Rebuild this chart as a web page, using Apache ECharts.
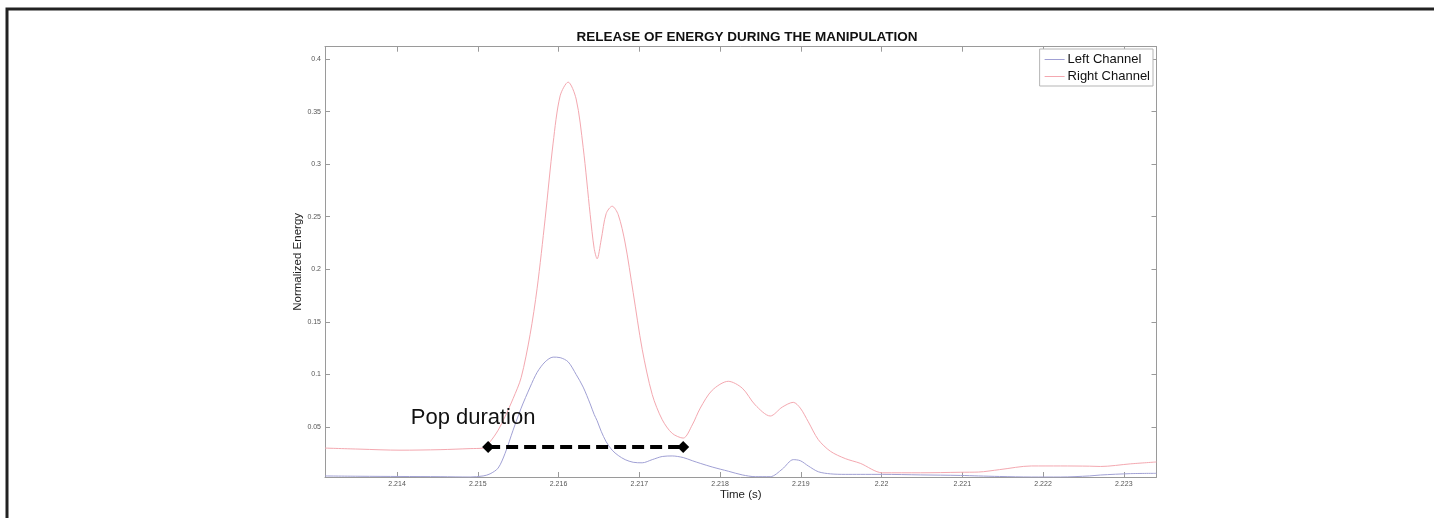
<!DOCTYPE html>
<html>
<head>
<meta charset="utf-8">
<script src="https://cdn.jsdelivr.net/npm/echarts@6/dist/echarts.min.js"></script>
<style>
html,body{margin:0;padding:0;background:#fff;}
#chart{width:1434px;height:518px;}
</style>
</head>
<body>
<div id="chart"></div>
<script>
const time = [
  2.213108, 2.213542, 2.214037, 2.214533, 2.214905, 2.215066, 2.215152, 2.215252,
  2.215338, 2.215437, 2.215537, 2.215648, 2.215735, 2.215834, 2.215933, 2.216020,
  2.216119, 2.216218, 2.216305, 2.216392, 2.216441, 2.216478, 2.216528, 2.216590,
  2.216664, 2.216739, 2.216825, 2.216924, 2.217036, 2.217160, 2.217284, 2.217408,
  2.217544, 2.217656, 2.217755, 2.217903, 2.218102, 2.218275, 2.218436, 2.218622,
  2.218771, 2.218907, 2.218994, 2.219093, 2.219217, 2.219366, 2.219551, 2.219737,
  2.220010, 2.220481, 2.220977, 2.221200, 2.221460, 2.221856, 2.222216, 2.222575,
  2.222711, 2.223083, 2.223405
];
const rightChannel = [
  0.030, 0.029, 0.028, 0.0285, 0.0295, 0.030, 0.036, 0.047,
  0.060, 0.077, 0.097, 0.138, 0.182, 0.248, 0.320, 0.365,
  0.378, 0.362, 0.316, 0.252, 0.220, 0.210, 0.228, 0.253,
  0.260, 0.252, 0.225, 0.178, 0.124, 0.081, 0.057, 0.044,
  0.0395, 0.052, 0.068, 0.085, 0.0935, 0.087, 0.071, 0.0605,
  0.069, 0.0735, 0.068, 0.055, 0.038, 0.027, 0.020, 0.0155,
  0.0065, 0.0065, 0.0070, 0.0072, 0.0095, 0.013, 0.013, 0.0128,
  0.0125, 0.0150, 0.0168
];
const leftChannel = [
  0.0035, 0.0032, 0.0030, 0.0028, 0.0025, 0.0035, 0.0055, 0.011,
  0.025, 0.047, 0.068, 0.088, 0.102, 0.112, 0.1165, 0.116,
  0.112, 0.100, 0.088, 0.072, 0.062, 0.056, 0.046, 0.036,
  0.028, 0.023, 0.019, 0.0165, 0.016, 0.019, 0.022, 0.0225,
  0.021, 0.018, 0.0155, 0.012, 0.008, 0.0045, 0.0028, 0.0028,
  0.010, 0.019, 0.018, 0.013, 0.0075, 0.0055, 0.005, 0.005,
  0.005, 0.0045, 0.004, 0.0035, 0.003, 0.0025, 0.0025, 0.0035,
  0.0044, 0.0057, 0.006
];
const xTicks = [2.214, 2.215, 2.216, 2.217, 2.218, 2.219, 2.220, 2.221, 2.222, 2.223];
const yTicks = [0.05, 0.10, 0.15, 0.20, 0.25, 0.30, 0.35, 0.40];
const xRange = [2.213108, 2.223405];
const yRange = [0.0025, 0.4117];
const popStart = 2.215128, popEnd = 2.217544, popLevel = 0.031;
const popLabelPos = [2.214942, 0.0586];

const FONT = 'Liberation Sans, Arial, sans-serif';
const AX = '#9a9a9a';
const fmtX = v => String(parseFloat(Number(v).toFixed(3)));
const fmtY = v => String(parseFloat(Number(v).toFixed(2)));
const pair = (xs, ys) => xs.map((x, i) => [x, ys[i]]);

function xAxisDef(pos, showLabels) {
  return {
    type: 'value', position: pos, min: xRange[0], max: xRange[1],
    name: showLabels ? 'Time (s)' : '', nameLocation: 'middle', nameGap: 12, nameMoveOverlap: false,
    nameTextStyle: {fontFamily: FONT, fontSize: 11.5, color: '#222'},
    axisLine: {show: true, lineStyle: {color: AX, width: 1}},
    axisTick: {show: true, inside: true, length: 5, customValues: xTicks, lineStyle: {color: AX}},
    axisLabel: {show: showLabels, customValues: xTicks, formatter: fmtX, fontSize: 7, color: '#555', fontFamily: FONT, margin: 4},
    splitLine: {show: false}
  };
}
function yAxisDef(pos, showLabels) {
  return {
    type: 'value', position: pos, min: yRange[0], max: yRange[1],
    name: showLabels ? 'Normalized Energy' : '', nameLocation: 'middle', nameGap: 21, nameMoveOverlap: false,
    nameTextStyle: {fontFamily: FONT, fontSize: 11.5, color: '#222'},
    axisLine: {show: true, lineStyle: {color: AX, width: 1}},
    axisTick: {show: true, inside: true, length: 5, customValues: yTicks, lineStyle: {color: AX}},
    axisLabel: {show: showLabels, customValues: yTicks, formatter: fmtY, fontSize: 7, color: '#555', fontFamily: FONT, margin: 4},
    splitLine: {show: false}
  };
}

const chart = echarts.init(document.getElementById('chart'), null, {renderer: 'canvas'});
chart.setOption({
  backgroundColor: '#fff',
  animation: false,
  title: {
    text: 'RELEASE OF ENERGY DURING THE MANIPULATION',
    left: 742, top: 25, textAlign: 'center',
    textStyle: {fontFamily: FONT, fontSize: 13.5, fontWeight: 'bold', color: '#111'}
  },
  legend: {
    orient: 'vertical', right: 281, top: 49,
    icon: 'rect', itemWidth: 20, itemHeight: 1, itemGap: 4,
    padding: [4, 3, 3, 5],
    borderColor: '#b5b5b5', borderWidth: 1, backgroundColor: '#fff',
    textStyle: {fontFamily: FONT, fontSize: 13, color: '#111', padding: [0, 0, 0, -2]},
    data: ['Left Channel', 'Right Channel']
  },
  graphic: [{
    type: 'rect', shape: {x: 7, y: 9, width: 1600, height: 700},
    style: {fill: 'none', stroke: '#222', lineWidth: 3}, silent: true
  }],
  grid: {left: 325, right: 277.5, top: 46.7, bottom: 41},
  xAxis: [xAxisDef('bottom', true), xAxisDef('top', false)],
  yAxis: [yAxisDef('left', true), yAxisDef('right', false)],
  series: [
    {
      name: 'Left Channel', type: 'line', data: pair(time, leftChannel),
      symbol: 'none', smooth: 0.3, lineStyle: {color: '#a0a0d4', width: 1}, itemStyle: {color: '#a0a0d4'}
    },
    {
      name: 'Right Channel', type: 'line', data: pair(time, rightChannel),
      symbol: 'none', smooth: 0.3, lineStyle: {color: '#f4a8b0', width: 1}, itemStyle: {color: '#f4a8b0'},
      markLine: {
        silent: true, symbol: ['diamond', 'diamond'], symbolSize: [12, 12],
        label: {show: false},
        lineStyle: {color: '#000', width: 4, type: [12, 6]},
        itemStyle: {color: '#000'},
        data: [[{coord: [popStart, popLevel]}, {coord: [popEnd, popLevel]}]]
      },
      markPoint: {
        silent: true, symbol: 'rect', symbolSize: 1, itemStyle: {color: 'rgba(0,0,0,0)'},
        label: {show: true, position: 'inside', formatter: 'Pop duration', fontFamily: FONT, fontSize: 22, color: '#111'},
        data: [{coord: popLabelPos}]
      }
    }
  ]
});
</script>
</body>
</html>
